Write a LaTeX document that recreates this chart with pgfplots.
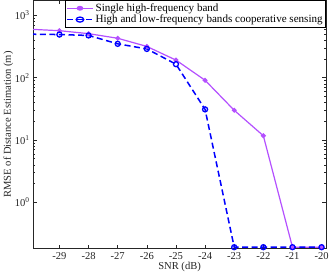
\documentclass[border=0pt]{standalone}
\usepackage{pgfplots}
\pgfplotsset{compat=1.18}
\usepackage{fontspec}
\setmainfont{Liberation Serif}
\definecolor{mpurple}{RGB}{180,80,255}
\definecolor{mblue}{RGB}{0,0,255}
\definecolor{axgray}{RGB}{38,38,38}
\begin{document}
\begin{tikzpicture}
\begin{axis}[
  scale only axis, width=290bp, height=246bp,
  ymode=log,
  xmin=-29.9, xmax=-19.85, ymin=0.18, ymax=1750,
  xtick={-29,-28,-27,-26,-25,-24,-23,-22,-21,-20},
  xticklabels={-29,-28,-27,-26,-25,-24,-23,-22,-21,-20},
  ytick={1,10,100,1000},
  yticklabels={10\textsuperscript{0},10\textsuperscript{1},10\textsuperscript{2},10\textsuperscript{3}},
  tick align=inside,
  major tick length=3.5bp, minor tick length=2bp,
  axis line style={axgray, line width=0.6pt},
  every tick/.style={axgray, line width=0.5pt},
  tick label style={text=axgray},
  label style={text=axgray},
  font=\fontsize{10.5}{12}\selectfont,
  xlabel={SNR (dB)},
  ylabel={RMSE of Distance Estimation (m)},
  xlabel style={yshift=4bp},
  ylabel style={yshift=-5bp},
  /pgf/number format/assume math mode=true,
  legend style={at={(1,1)}, anchor=north east, draw=black, line width=0.6pt,
    font=\fontsize{11}{12.5}\selectfont, inner sep=1pt, row sep=-2pt,
    legend cell align=left},
  legend cell align=left,
  legend image post style={xscale=1.5},
  clip=true,
]
\addplot[color=mpurple, line width=1.2pt, mark=*, mark size=1.8pt, mark options={solid, fill=mpurple}]
  coordinates {(-30,600) (-29,569) (-28,510) (-27,430) (-26,318) (-25,192) (-24,91) (-23,30) (-22,11.7) (-21,0.19) (-20,0.19)};
\addlegendentry{Single high-frequency band}
\addplot[color=mblue, line width=1.5pt, dash pattern=on 6pt off 3.5pt, mark=o, mark size=2.5pt, mark options={solid, line width=1.3pt}]
  coordinates {(-30,500) (-29,493) (-28,477) (-27,350) (-26,290) (-25,165) (-24,31) (-23,0.19) (-22,0.19) (-21,0.19) (-20,0.19)};
\addlegendentry{High and low-frequency bands cooperative sensing}
\end{axis}
\end{tikzpicture}
\end{document}
